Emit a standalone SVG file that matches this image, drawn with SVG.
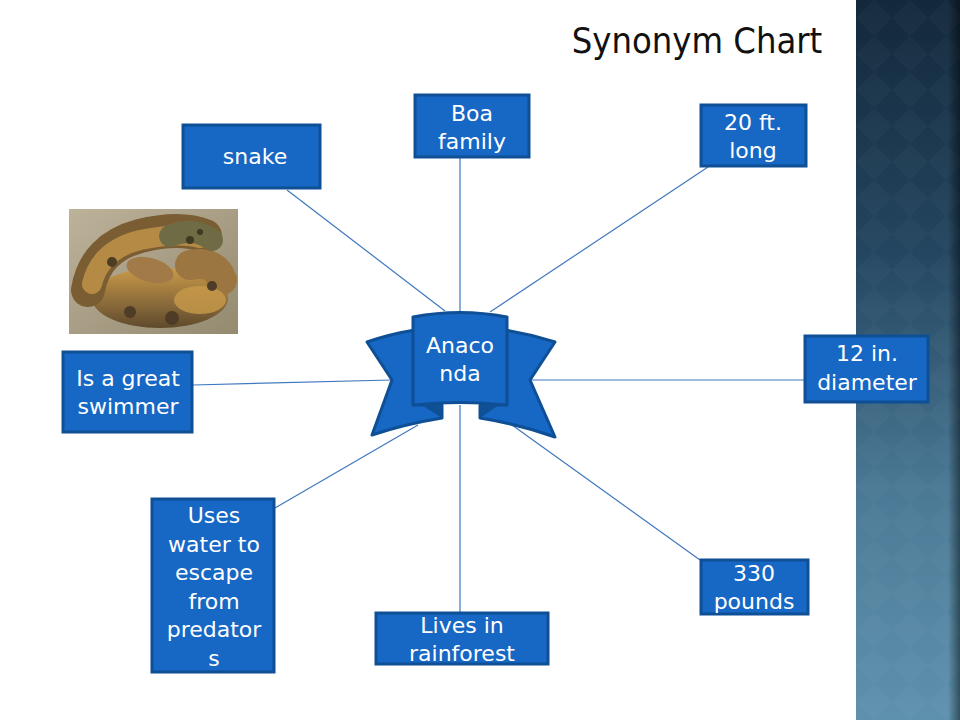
<svg xmlns="http://www.w3.org/2000/svg" width="960" height="720" viewBox="0 0 960 720">
<defs>
<style>
.box{fill:#1767c4;stroke:#0e4f95;stroke-width:3}
.t{font-family:"DejaVu Sans",Verdana,sans-serif;font-size:22px;fill:#ffffff;text-anchor:middle}
.c{stroke:#3f78be;stroke-width:1.2;fill:none}
.rib{fill:#1767c4;stroke:#0e4f95;stroke-width:3;stroke-linejoin:round}
.fold{fill:#0e4f95}
.coil{fill:none;stroke-linecap:round}
</style>
<linearGradient id="strip" x1="0" y1="0" x2="0" y2="1">
<stop offset="0" stop-color="#13283b"/>
<stop offset="0.35" stop-color="#244660"/>
<stop offset="0.7" stop-color="#4c7b97"/>
<stop offset="1" stop-color="#5e91ad"/>
</linearGradient>
<linearGradient id="edge" x1="0" y1="0" x2="1" y2="0">
<stop offset="0" stop-color="#000" stop-opacity="0"/>
<stop offset="1" stop-color="#000" stop-opacity="0.45"/>
</linearGradient>
<pattern id="dia" width="36" height="36" patternUnits="userSpaceOnUse" x="856" y="0">
<path d="M18 0 L36 18 L18 36 L0 18 Z" fill="#ffffff" fill-opacity="0.025"/>
</pattern>
<linearGradient id="gold" x1="0" y1="0" x2="0" y2="1">
<stop offset="0" stop-color="#c99a48"/>
<stop offset="0.55" stop-color="#8f6e3c"/>
<stop offset="1" stop-color="#5e4a2c"/>
</linearGradient>
<linearGradient id="ground" x1="0" y1="0" x2="1" y2="1">
<stop offset="0" stop-color="#bdb29a"/>
<stop offset="1" stop-color="#948a70"/>
</linearGradient>
</defs>
<rect width="960" height="720" fill="#ffffff"/>
<g id="strip-bg">
<rect x="856" y="0" width="104" height="720" fill="url(#strip)"/>
<rect x="856" y="0" width="104" height="720" fill="url(#dia)"/>
<rect x="948" y="0" width="12" height="720" fill="url(#edge)"/>
</g>
<text x="697" y="53" style="font-family:'DejaVu Sans Condensed','DejaVu Sans',sans-serif;font-size:36px;fill:#111;text-anchor:middle">Synonym Chart</text>
<g id="photo">
<rect x="69" y="209" width="169" height="125" fill="url(#ground)"/>
<ellipse cx="160" cy="298" rx="68" ry="30" fill="url(#gold)"/>
<path class="coil" d="M88 290 Q95 248 140 236 Q180 226 205 236" stroke="#7b5d33" stroke-width="34"/>
<path class="coil" d="M92 284 Q100 250 140 240 Q178 232 200 238" stroke="#b58a45" stroke-width="20"/>
<path class="coil" d="M190 265 Q215 260 222 280" stroke="#9c7640" stroke-width="30"/>
<path class="coil" d="M170 236 Q195 226 212 240" stroke="#6f6c45" stroke-width="22"/>
<ellipse cx="150" cy="270" rx="24" ry="12" fill="#a27a48" transform="rotate(15 150 270)"/>
<ellipse cx="200" cy="300" rx="26" ry="14" fill="#c89a4a" fill-opacity="0.8"/>
<circle cx="130" cy="312" r="6" fill="#4e3c26"/>
<circle cx="172" cy="318" r="7" fill="#4e3c26"/>
<circle cx="212" cy="286" r="5" fill="#4e3c26"/>
<circle cx="112" cy="262" r="5" fill="#4e3c26"/>
<circle cx="190" cy="240" r="4" fill="#3e3a22"/>
<circle cx="200" cy="232" r="3" fill="#3e3a22"/>
</g>
<g id="connectors">
<line class="c" x1="287" y1="190" x2="445" y2="311"/>
<line class="c" x1="460" y1="158" x2="460" y2="312"/>
<line class="c" x1="708" y1="167" x2="490" y2="312"/>
<line class="c" x1="530" y1="380" x2="804" y2="380"/>
<line class="c" x1="193" y1="385" x2="392" y2="380"/>
<line class="c" x1="275" y1="508" x2="418" y2="425"/>
<line class="c" x1="460" y1="405" x2="460" y2="612"/>
<line class="c" x1="512" y1="425" x2="700" y2="560"/>
</g>
<g id="anaconda">
<path class="rib" d="M415 330 Q390 334 367 342 L392 380 L372 435 Q405 424 442 418 L442 405 L415 405 Z"/>
<path class="rib" d="M505 330 Q530 334 555 342 L530 380 L555 437 Q518 424 480 418 L480 405 L505 405 Z"/>
<path class="fold" d="M414 400 L442 405 L442 418 Z"/>
<path class="fold" d="M506 400 L480 405 L480 418 Z"/>
<path class="rib" d="M413 317 Q460 308 507 317 L507 405 Q460 400 413 405 Z"/>
<text class="t" x="460" y="353">Anaco</text>
<text class="t" x="460" y="381">nda</text>
</g>
<g id="n-snake">
<rect class="box" x="183" y="125" width="137" height="63"/>
<text class="t" x="255" y="164">snake</text>
</g>
<g id="n-boa">
<rect class="box" x="415" y="95" width="114" height="62"/>
<text class="t" x="472" y="121">Boa</text>
<text class="t" x="472" y="149">family</text>
</g>
<g id="n-20ft">
<rect class="box" x="701" y="105" width="105" height="61"/>
<text class="t" x="753" y="130">20 ft.</text>
<text class="t" x="753" y="158">long</text>
</g>
<g id="n-12in">
<rect class="box" x="805" y="336" width="123" height="66"/>
<text class="t" x="867" y="361">12 in.</text>
<text class="t" x="867" y="390">diameter</text>
</g>
<g id="n-swim">
<rect class="box" x="63" y="352" width="129" height="80"/>
<text class="t" x="128" y="386">Is a great</text>
<text class="t" x="128" y="414">swimmer</text>
</g>
<g id="n-water">
<rect class="box" x="152" y="499" width="122" height="173"/>
<text class="t" x="214" y="523">Uses</text>
<text class="t" x="214" y="552">water to</text>
<text class="t" x="214" y="580">escape</text>
<text class="t" x="214" y="609">from</text>
<text class="t" x="214" y="637">predator</text>
<text class="t" x="214" y="666">s</text>
</g>
<g id="n-lives">
<rect class="box" x="376" y="613" width="172" height="51"/>
<text class="t" x="462" y="633">Lives in</text>
<text class="t" x="462" y="661">rainforest</text>
</g>
<g id="n-330">
<rect class="box" x="701" y="560" width="107" height="54"/>
<text class="t" x="754" y="581">330</text>
<text class="t" x="754" y="609">pounds</text>
</g>
</svg>
